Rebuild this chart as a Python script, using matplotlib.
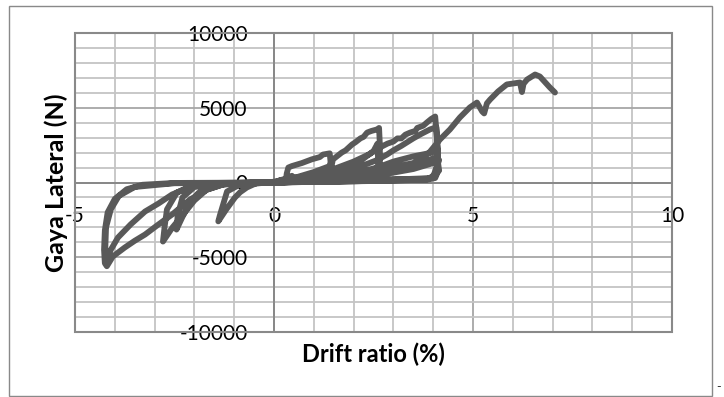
import numpy as np
import matplotlib.pyplot as plt
from matplotlib.ticker import MultipleLocator
from matplotlib.patches import Rectangle

plt.rcParams['font.family'] = ['Lato', 'DejaVu Sans']
plt.rcParams['axes.unicode_minus'] = False

# drift ratio (%) and lateral force (N)
drift = [
    0, 0.15, 0.3, 0.45, 0.45, 0.2, 0, -0.2, -0.45, -0.45, 0,
    0.3, 0.32, 0.36, 0.45, 0.7, 0.95, 1.15, 1.23, 1.4, 1.42, 1.4, 1.2, 0.8, 0.45, 0,
    -0.43, -0.68, -0.85, -0.98, -1.2, -1.4, -1.36, -1.28, -1.18, -0.9, -0.5, 0,
    0.5, 1.0, 1.45, 1.48, 1.7, 1.8, 1.96, 2.05, 2.17, 2.25, 2.34, 2.45, 2.59, 2.64,
    2.66, 2.66, 2.5, 2.0, 1.0, 0,
    -0.8, -1.3, -1.7, -2.0, -2.3, -2.55, -2.79, -2.75, -2.69, -2.44, -2.1, -1.5, 0,
    0.8, 1.6, 2.2, 2.5, 2.6, 2.62, 2.5, 1.5, 0,
    -1.0, -1.6, -1.9, -2.11, -2.3, -2.45, -2.42, -2.3, -2.0, -1.2, 0,
    0.6, 1.5, 2.0, 2.4, 2.66, 2.85, 3.0, 3.1, 3.2, 3.3, 3.42, 3.55, 3.6, 3.75, 3.84,
    3.95, 4.05, 4.08, 4.12, 4.12, 4.05, 3.84, 3.0, 2.0, 1.0, 0,
    -1.0, -1.28, -1.68, -2.11, -2.56, -2.9, -3.24, -3.5, -3.75, -4.05, -4.2, -4.25,
    -4.27, -4.25, -4.18, -4.0, -3.7, -3.3, -2.5, 0,
    1.0, 2.0, 2.59, 2.84, 3.0, 3.2, 3.35, 3.5, 3.7, 3.92, 4.08, 4.12, 4.05, 3.8, 3.0,
    2.0, 0,
    -1.5, -2.0, -2.56, -2.9, -3.24, -3.6, -3.92, -4.1, -4.2, -4.24, -4.22, -4.1,
    -3.9, -3.5, -2.5, 0,
    1.0, 2.0, 2.59, 3.0, 3.5, 3.97, 4.1, 4.12, 4.0, 3.0, 2.0, 0,
    1.0, 2.0, 2.74, 3.5, 4.05, 4.15, 4.0, 3.84, 3.0, 1.5, 0,
    1.5, 2.62, 3.3, 4.1, 4.15, 3.9, 2.0, 0,
    1.5, 2.74, 3.5, 3.9, 4.17, 4.42, 4.67, 4.92, 5.1, 5.23, 5.28, 5.35, 5.43,
    5.63, 5.85, 6.18, 6.23, 6.27, 6.36, 6.56, 6.68, 6.86, 6.93, 7.06,
]
force = [
    0, 150, 260, 450, 250, 80, 0, -20, -60, -20, 0,
    200, 600, 1000, 1100, 1300, 1550, 1700, 1870, 1950, 1400, 900, 600, 420, 300, 50,
    -30, -330, -650, -1000, -1800, -2600, -2200, -1500, -600, -200, -60, 0,
    300, 700, 1150, 1540, 2000, 2150, 2540, 2700, 2950, 3050, 3340, 3450, 3550, 3650,
    2500, 1000, 500, 300, 150, 0,
    -40, -150, -500, -1200, -2200, -3000, -3950, -3000, -1800, -670, -250, -60, 0,
    250, 800, 1500, 2100, 2600, 1200, 400, 200, 0,
    -40, -200, -700, -1340, -2300, -3150, -2200, -1000, -300, -50, 0,
    200, 900, 1400, 1900, 2340, 2600, 2740, 2950, 2950, 3200, 3340, 3450, 3650, 3800, 4010,
    4250, 4415, 3500, 2000, 735, 300, 180, 150, 100, 60, 0,
    -30, -130, -470, -1140, -2140, -2800, -3480, -3900, -4350, -4950, -5600, -5400,
    -4500, -3200, -2000, -1100, -450, -150, -30, 0,
    300, 900, 1500, 1870, 2150, 2450, 2700, 2950, 3250, 3550, 3700, 1500, 400, 200, 150,
    80, 0,
    -50, -200, -800, -1400, -1940, -2800, -3680, -4500, -5200, -4500, -3000, -1800,
    -900, -300, -50, 0,
    200, 600, 1000, 1400, 1750, 2000, 2300, 1000, 300, 200, 120, 0,
    150, 350, 535, 900, 1340, 1500, 400, 200, 120, 60, 0,
    350, 700, 1000, 1700, 800, 250, 150, 0,
    400, 900, 1300, 2000, 2877, 3546, 4350, 5020, 5350, 4750, 4620, 5300, 5550,
    6090, 6560, 6690, 6050, 6600, 6890, 7225, 7090, 6560, 6360, 6020,
]

fig = plt.figure(figsize=(7.24, 3.97), dpi=100)
ax = fig.add_axes([75 / 724, 1 - 332 / 397, 597 / 724, 299 / 397])

ax.plot(drift, force, color='#595959', lw=4.2, solid_joinstyle='round',
        solid_capstyle='round', zorder=3)

ax.set_xlim(-5, 10)
ax.set_ylim(-10000, 10000)
ax.xaxis.set_major_locator(MultipleLocator(5))
ax.xaxis.set_minor_locator(MultipleLocator(1))
ax.yaxis.set_major_locator(MultipleLocator(5000))
ax.yaxis.set_minor_locator(MultipleLocator(1000))
ax.grid(which='minor', color='#c4c4c4', lw=1.3, zorder=0)
ax.grid(which='major', color='#a6a6a6', lw=1.3, zorder=0)

# axes cross at zero like the excel chart
ax.spines['left'].set_position(('data', 0))
ax.spines['bottom'].set_position(('data', 0))
ax.spines['top'].set_visible(False)
ax.spines['right'].set_visible(False)
for s in ['left', 'bottom']:
    ax.spines[s].set_color('#868686')
    ax.spines[s].set_linewidth(1.3)
ax.add_patch(Rectangle((0, 0), 1, 1, transform=ax.transAxes, fill=False,
                       edgecolor='#898989', lw=1.5, zorder=4, clip_on=False))

ax.tick_params(which='both', length=0)
ax.tick_params(axis='y', pad=19, labelsize=15)
ax.tick_params(axis='x', pad=17, labelsize=15)

ax.set_xlabel('Drift ratio (%)', fontsize=17, fontweight='bold')
ax.set_ylabel('Gaya Lateral (N)', fontsize=18, fontweight='bold')
ax.xaxis.set_label_coords(0.5, -0.035)
ax.yaxis.set_label_coords(-0.012, 0.5)

fig.add_artist(Rectangle((9 / 724, 0.002), 703 / 724, 1 - 6 / 397 - 0.002,
                         transform=fig.transFigure, fill=False,
                         edgecolor='#898989', lw=1.0))
fig.text(716 / 724, 1 - 387 / 397, '-', fontsize=9, va='center', color='#333333')

fig.savefig('out.png', dpi=100)
